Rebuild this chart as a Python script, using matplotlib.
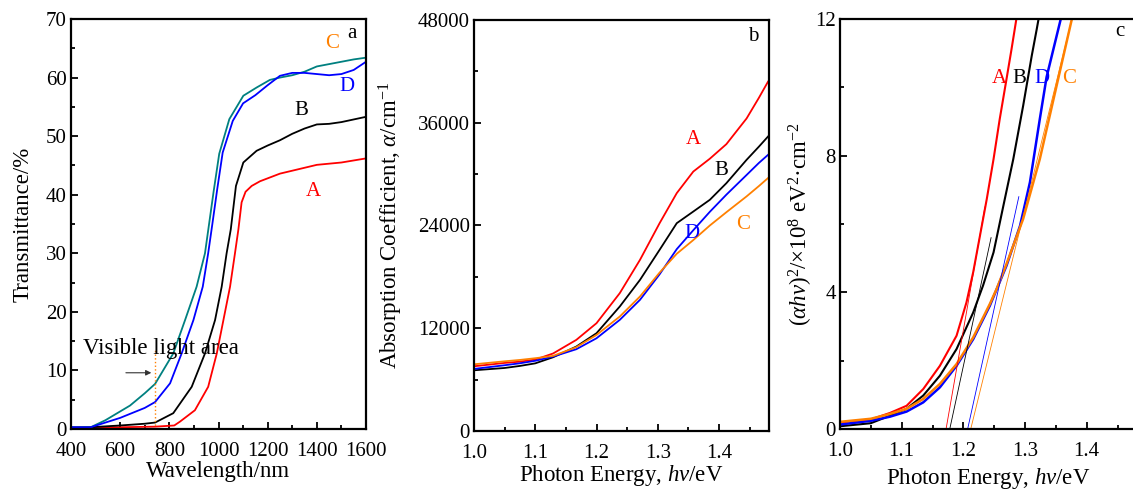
import matplotlib
matplotlib.use("Agg")
import matplotlib.pyplot as plt
from matplotlib.ticker import MultipleLocator

plt.rcParams["font.family"] = ["Liberation Serif", "DejaVu Serif"]
plt.rcParams["mathtext.fontset"] = "custom"
plt.rcParams["mathtext.rm"] = "Liberation Serif"
plt.rcParams["mathtext.it"] = "Liberation Serif:italic"
plt.rcParams["font.size"] = 15

RED, BLACK, BLUE, TEAL, ORANGE = "#ff0000", "#000000", "#0000ff", "#008080", "#ff8000"
LABEL_SIZE = 16.5

# panel a: transmittance vs wavelength
wl_A = [400, 600, 742, 820, 843, 904, 958, 993, 1020, 1047, 1067, 1081, 1094, 1110,
        1135, 1169, 1250, 1300, 1350, 1400, 1500, 1600]
trans_A = [0.3, 0.3, 0.4, 0.6, 1.25, 3.2, 7.2, 12.9, 18.6, 24.3, 30.0, 34.1, 38.7, 40.5,
           41.5, 42.3, 43.6, 44.1, 44.6, 45.1, 45.5, 46.2]
wl_B = [400, 480, 600, 700, 742, 816, 891, 945, 986, 1013, 1033, 1050, 1071, 1101, 1155,
        1200, 1250, 1300, 1350, 1400, 1450, 1500, 1600]
trans_B = [0.2, 0.3, 0.6, 0.9, 1.1, 2.7, 7.2, 12.9, 18.6, 24.3, 30.0, 34.1, 41.5, 45.5, 47.5,
           48.4, 49.3, 50.4, 51.3, 52.0, 52.1, 52.4, 53.3]
wl_C = [400, 480, 540, 600, 640, 700, 742, 816, 864, 911, 945, 960, 980, 1003, 1044,
        1101, 1155, 1209, 1250, 1300, 1350, 1400, 1450, 1500, 1550, 1600]
trans_C = [0.3, 0.3, 1.5, 3.0, 4.0, 6.1, 7.7, 12.9, 18.6, 24.3, 30.0, 34.5, 40.5, 47.0, 52.9,
           56.9, 58.3, 59.6, 60.0, 60.4, 61.0, 61.9, 62.3, 62.7, 63.1, 63.4]
wl_D = [400, 480, 600, 700, 742, 803, 850, 898, 936, 958, 975, 995, 1017, 1058, 1100,
        1150, 1200, 1250, 1300, 1350, 1400, 1450, 1500, 1550, 1600]
trans_D = [0.3, 0.3, 1.9, 3.6, 4.6, 7.8, 12.9, 18.6, 24.3, 30.0, 35.0, 41.0, 47.2, 52.6, 55.6,
           57.0, 58.7, 60.3, 60.8, 60.8, 60.6, 60.4, 60.6, 61.3, 62.7]

# panel b: absorption coefficient vs photon energy
ev_b = [1.0, 1.05, 1.075, 1.1, 1.129, 1.167, 1.2, 1.238, 1.271, 1.303, 1.331, 1.358,
        1.385, 1.412, 1.445, 1.465, 1.48]
alpha_A = [7560, 7950, 8100, 8340, 9050, 10640, 12590, 16100, 19990, 24270, 27780, 30300,
           31800, 33500, 36500, 38900, 40800]
alpha_B = [7090, 7360, 7600, 7900, 8610, 9860, 11420, 14540, 17650, 21160, 24270, 25630,
           27000, 28940, 31670, 33200, 34390]
alpha_C = [7790, 8140, 8300, 8500, 8770, 9790, 11220, 13370, 15710, 18500, 20700, 22300,
           24000, 25550, 27400, 28600, 29540]
alpha_D = [7250, 7680, 7910, 8200, 8690, 9550, 10830, 12980, 15320, 18300, 21240, 23450,
           25600, 27600, 29900, 31300, 32250]

# panel c: (alpha*hv)^2 vs photon energy
ev_cA = [1.0, 1.05, 1.081, 1.108, 1.135, 1.162, 1.189, 1.205, 1.216, 1.227, 1.238, 1.249,
         1.259, 1.27, 1.278, 1.286]
tauc_A = [0.19, 0.28, 0.47, 0.68, 1.17, 1.85, 2.73, 3.7, 4.59, 5.66, 6.73, 7.9,
          9.07, 10.24, 11.1, 12.0]
ev_cB = [1.0, 1.05, 1.081, 1.108, 1.135, 1.162, 1.189, 1.216, 1.232, 1.249, 1.265, 1.281,
         1.297, 1.311, 1.319, 1.322]
tauc_B = [0.08, 0.17, 0.39, 0.59, 0.98, 1.56, 2.34, 3.41, 4.2, 5.17, 6.54, 7.9,
          9.46, 10.93, 11.7, 12.0]
ev_cD = [1.0, 1.05, 1.081, 1.108, 1.135, 1.162, 1.189, 1.216, 1.243, 1.27, 1.292, 1.308,
         1.324, 1.335, 1.358]
tauc_D = [0.13, 0.24, 0.36, 0.51, 0.78, 1.22, 1.85, 2.63, 3.61, 4.78, 5.95, 7.22,
          9.07, 10.3, 12.0]
ev_cC = [1.0, 1.05, 1.081, 1.108, 1.135, 1.162, 1.189, 1.216, 1.243, 1.254, 1.27, 1.297,
         1.324, 1.35, 1.376]
tauc_C = [0.21, 0.3, 0.44, 0.59, 0.88, 1.32, 1.9, 2.68, 3.66, 4.1, 4.83, 6.15,
          7.9, 9.95, 12.0]
# fitted tangent lines: (x0, y0, x1, y1)
fit_A = [1.172, 0.0, 1.235, 6.5]
fit_B = [1.178, 0.0, 1.245, 5.6]
fit_D = [1.207, 0.0, 1.29, 6.8]
fit_C = [1.212, 0.0, 1.376, 12.0]

W, H = 1133, 490
fig = plt.figure(figsize=(W / 100, H / 100), dpi=100)


def style(ax):
    for s in ax.spines.values():
        s.set_linewidth(1.6)
    ax.tick_params(which="both", direction="in", top=False, right=False, width=1.3)
    ax.tick_params(which="major", length=5, pad=3)
    ax.tick_params(axis="x", which="major", pad=9)
    ax.tick_params(which="minor", length=3)


# ---- a ----
ax = fig.add_axes([71 / W, 1 - 429 / H, 295 / W, 410 / H])
ax.plot(wl_A, trans_A, color=RED, lw=1.3)
ax.plot(wl_B, trans_B, color=BLACK, lw=1.3)
ax.plot(wl_C, trans_C, color=TEAL, lw=1.3)
ax.plot(wl_D, trans_D, color=BLUE, lw=1.3)
ax.set_xlim(400, 1600)
ax.set_ylim(0, 70)
ax.xaxis.set_major_locator(MultipleLocator(200))
ax.xaxis.set_minor_locator(MultipleLocator(100))
ax.yaxis.set_major_locator(MultipleLocator(10))
ax.yaxis.set_minor_locator(MultipleLocator(5))
ax.set_xlabel("Wavelength/nm", fontsize=LABEL_SIZE, labelpad=0)
ax.set_ylabel("Transmittance/%", fontsize=LABEL_SIZE, labelpad=9)
ax.plot([742, 742], [0, 13.5], color=ORANGE, lw=1, ls=":")
ax.annotate("", xy=(738, 9.6), xytext=(612, 9.6),
            arrowprops=dict(arrowstyle="-|>", color="#333333", lw=0.8, mutation_scale=8))
ax.text(449, 13.8, "Visible light area", va="center", ha="left", fontsize=LABEL_SIZE)
ax.text(1462, 65.9, "C", color=ORANGE, ha="center", va="center")
ax.text(1543, 67.6, "a", color=BLACK, ha="center", va="center")
ax.text(1522, 58.4, "D", color=BLUE, ha="center", va="center")
ax.text(1336, 54.3, "B", color=BLACK, ha="center", va="center")
ax.text(1385, 40.6, "A", color=RED, ha="center", va="center")
style(ax)

# ---- b ----
ax = fig.add_axes([474 / W, 1 - 431 / H, 295 / W, 411 / H])
ax.plot(ev_b, alpha_A, color=RED, lw=1.3)
ax.plot(ev_b, alpha_B, color=BLACK, lw=1.3)
ax.plot(ev_b, alpha_D, color=BLUE, lw=1.3)
ax.plot(ev_b, alpha_C, color=ORANGE, lw=1.3)
ax.set_xlim(1.0, 1.4816)
ax.set_ylim(0, 48000)
ax.xaxis.set_major_locator(MultipleLocator(0.1))
ax.xaxis.set_minor_locator(MultipleLocator(0.05))
ax.yaxis.set_major_locator(MultipleLocator(12000))
ax.yaxis.set_minor_locator(MultipleLocator(6000))
ax.xaxis.set_major_formatter(lambda v, p: f"{v:.1f}")
ax.set_xlabel("Photon Energy, $hv$/eV", fontsize=LABEL_SIZE, labelpad=0)
ax.set_ylabel(r"Absorption Coefficient, $\alpha$/cm$^{-1}$", fontsize=LABEL_SIZE, labelpad=9)
ax.text(1.456, 46050, "b", ha="center", va="center")
ax.text(1.358, 34050, "A", color=RED, ha="center", va="center")
ax.text(1.403, 30470, "B", color=BLACK, ha="center", va="center")
ax.text(1.355, 23070, "D", color=BLUE, ha="center", va="center")
ax.text(1.439, 24160, "C", color=ORANGE, ha="center", va="center")
style(ax)

# ---- c ----
ax = fig.add_axes([840 / W, 1 - 429 / H, 296 / W, 410 / H])
ax.plot(ev_cA, tauc_A, color=RED, lw=1.5)
ax.plot(ev_cB, tauc_B, color=BLACK, lw=1.5)
ax.plot(ev_cD, tauc_D, color=BLUE, lw=1.8)
ax.plot(ev_cC, tauc_C, color=ORANGE, lw=1.8)
for f, c in [(fit_A, RED), (fit_B, BLACK), (fit_D, BLUE), (fit_C, ORANGE)]:
    ax.plot([f[0], f[2]], [f[1], f[3]], color=c, lw=0.6)
ax.set_xlim(1.0, 1.48)
ax.set_ylim(0, 12)
ax.xaxis.set_major_locator(MultipleLocator(0.1))
ax.xaxis.set_minor_locator(MultipleLocator(0.05))
ax.yaxis.set_major_locator(MultipleLocator(4))
ax.yaxis.set_minor_locator(MultipleLocator(2))
ax.xaxis.set_major_formatter(lambda v, p: f"{v:.1f}")
ax.set_xlabel("Photon Energy, $hv$/eV", fontsize=LABEL_SIZE, labelpad=4)
ax.set_ylabel(r"($\alpha hv$)$^2$/×10$^8$ eV$^2$·cm$^{-2}$", fontsize=LABEL_SIZE, labelpad=0)
ax.text(1.454, 11.63, "c", ha="center", va="center")
ax.text(1.258, 10.26, "A", color=RED, ha="center", va="center")
ax.text(1.291, 10.26, "B", color=BLACK, ha="center", va="center")
ax.text(1.328, 10.26, "D", color=BLUE, ha="center", va="center")
ax.text(1.372, 10.26, "C", color=ORANGE, ha="center", va="center")
style(ax)

fig.savefig("out.png", dpi=100, facecolor="white")
